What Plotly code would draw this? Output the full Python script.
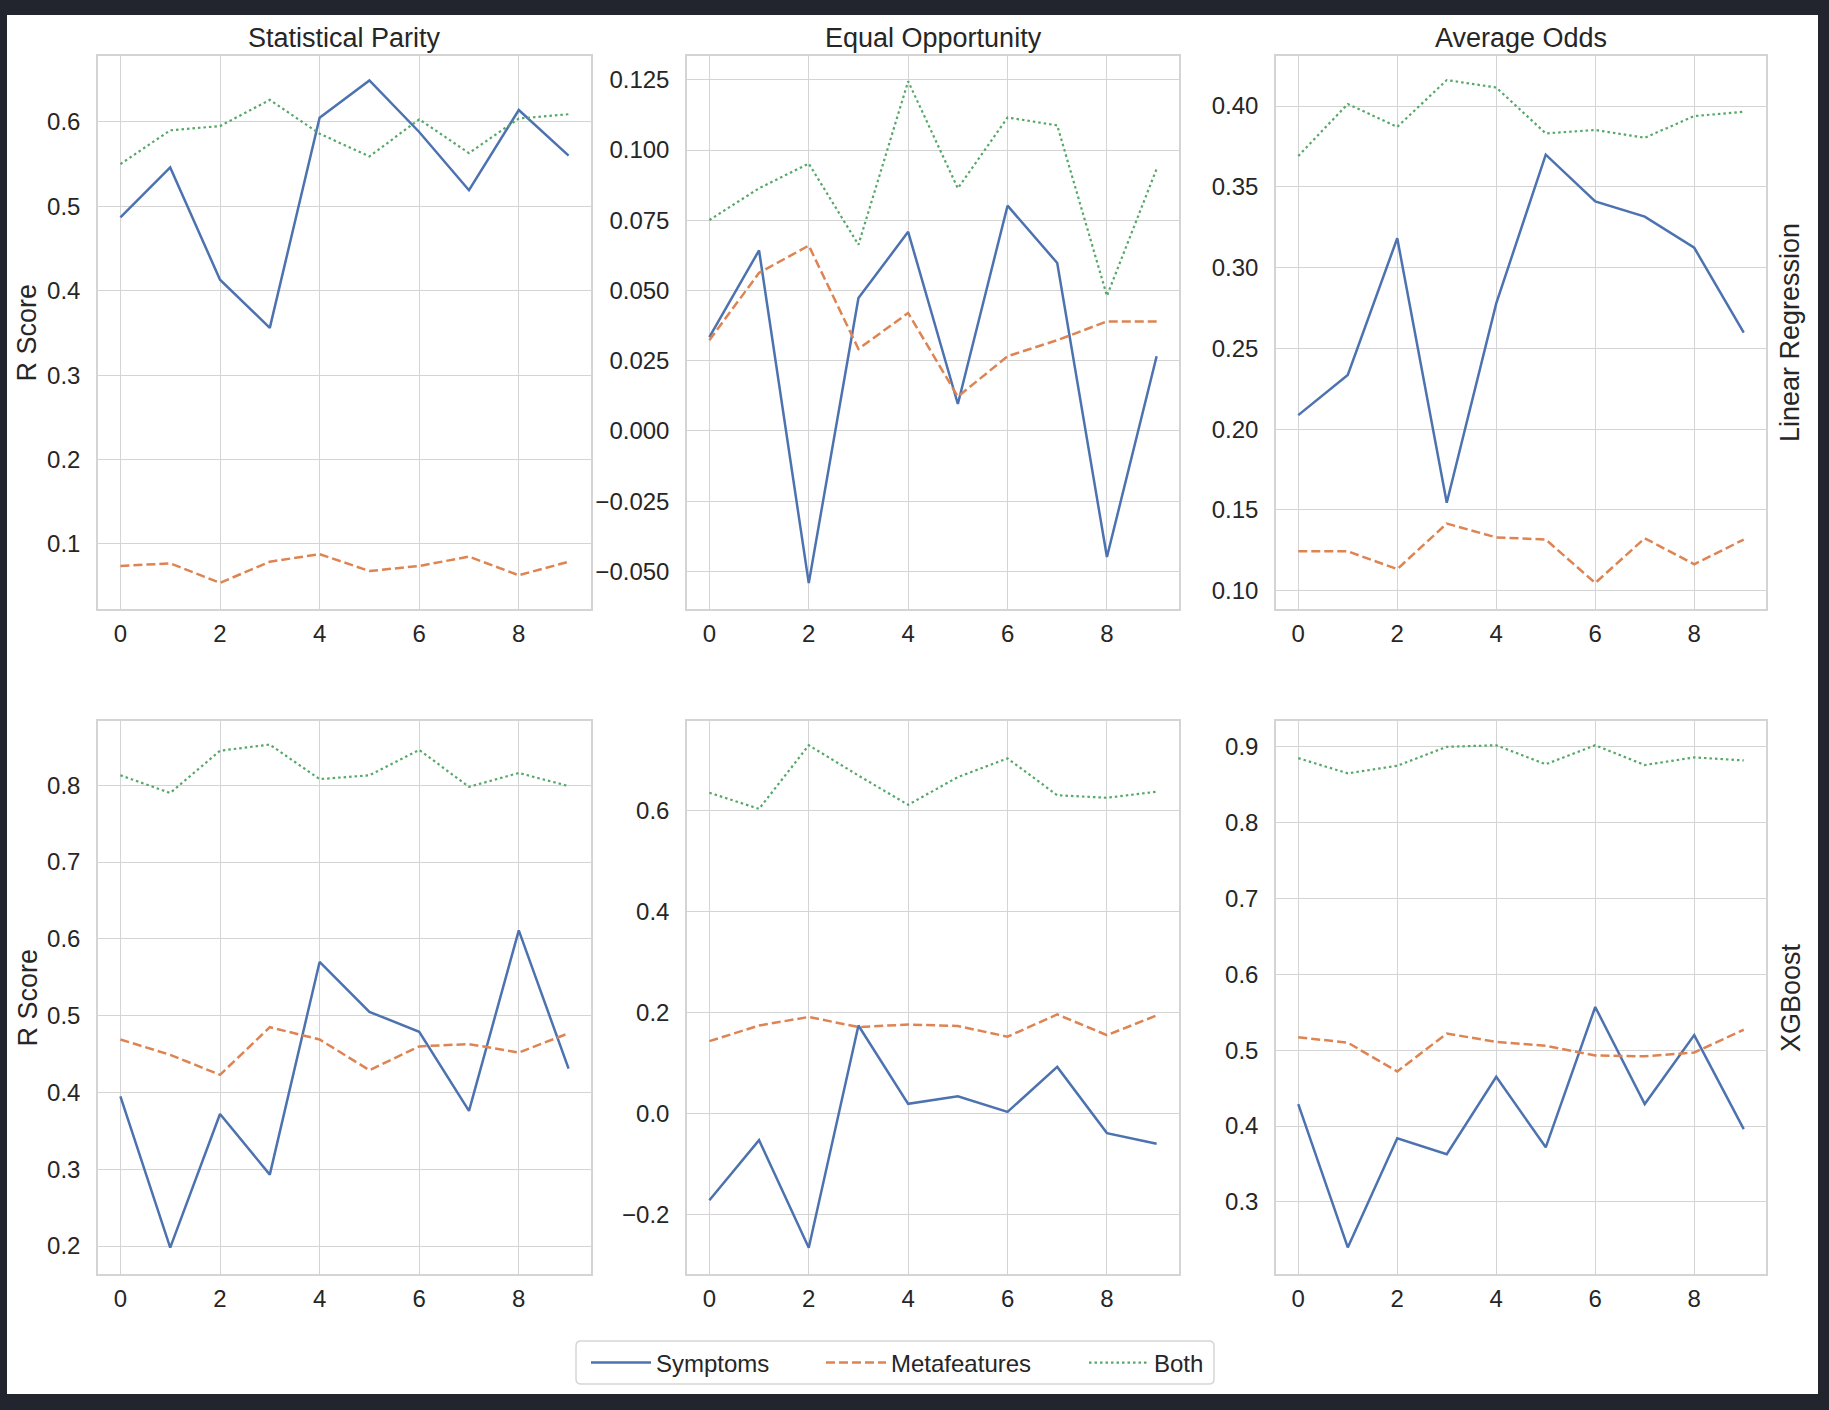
import plotly.graph_objects as go
from plotly.subplots import make_subplots

x_runs = [0, 1, 2, 3, 4, 5, 6, 7, 8, 9]
series_names = ["Symptoms", "Metafeatures", "Both"]
metric_titles = ["Statistical Parity", "Equal Opportunity", "Average Odds"]
model_names = ["Linear Regression", "XGBoost"]

# Linear Regression
lr_sp_symptoms = [0.487, 0.546, 0.413, 0.356, 0.605, 0.649, 0.588, 0.519, 0.614, 0.560]
lr_sp_meta = [0.074, 0.077, 0.054, 0.079, 0.088, 0.068, 0.074, 0.085, 0.063, 0.079]
lr_sp_both = [0.550, 0.590, 0.595, 0.626, 0.586, 0.559, 0.603, 0.563, 0.604, 0.609]

lr_eo_symptoms = [0.0334, 0.0643, -0.0542, 0.0473, 0.0709, 0.0096, 0.0802, 0.0598, -0.0449, 0.0266]
lr_eo_meta = [0.0323, 0.0563, 0.0660, 0.0292, 0.0420, 0.0122, 0.0266, 0.0323, 0.0390, 0.0390]
lr_eo_both = [0.0751, 0.0864, 0.0952, 0.0663, 0.1245, 0.0864, 0.1116, 0.1088, 0.0481, 0.0933]

lr_ao_symptoms = [0.2087, 0.2336, 0.3182, 0.1545, 0.2779, 0.3699, 0.3410, 0.3316, 0.3123, 0.2597]
lr_ao_meta = [0.1244, 0.1244, 0.1134, 0.1416, 0.1330, 0.1317, 0.1048, 0.1325, 0.1164, 0.1317]
lr_ao_both = [0.3691, 0.4013, 0.3871, 0.4161, 0.4115, 0.3831, 0.3852, 0.3804, 0.3938, 0.3965]

# XGBoost
xgb_sp_symptoms = [0.395, 0.198, 0.372, 0.293, 0.570, 0.505, 0.479, 0.376, 0.611, 0.431]
xgb_sp_meta = [0.469, 0.449, 0.423, 0.485, 0.469, 0.429, 0.460, 0.463, 0.452, 0.477]
xgb_sp_both = [0.813, 0.790, 0.845, 0.853, 0.808, 0.813, 0.846, 0.798, 0.816, 0.799]

xgb_eo_symptoms = [-0.172, -0.053, -0.266, 0.174, 0.019, 0.034, 0.003, 0.092, -0.039, -0.060]
xgb_eo_meta = [0.143, 0.174, 0.191, 0.171, 0.176, 0.173, 0.152, 0.196, 0.155, 0.194]
xgb_eo_both = [0.635, 0.603, 0.729, 0.669, 0.611, 0.666, 0.703, 0.630, 0.625, 0.637]

xgb_ao_symptoms = [0.429, 0.240, 0.384, 0.363, 0.465, 0.372, 0.557, 0.429, 0.520, 0.396]
xgb_ao_meta = [0.517, 0.510, 0.472, 0.522, 0.511, 0.506, 0.493, 0.492, 0.497, 0.527]
xgb_ao_both = [0.885, 0.865, 0.875, 0.900, 0.902, 0.877, 0.902, 0.876, 0.886, 0.882]

panels = [
    [(lr_sp_symptoms, lr_sp_meta, lr_sp_both),
     (lr_eo_symptoms, lr_eo_meta, lr_eo_both),
     (lr_ao_symptoms, lr_ao_meta, lr_ao_both)],
    [(xgb_sp_symptoms, xgb_sp_meta, xgb_sp_both),
     (xgb_eo_symptoms, xgb_eo_meta, xgb_eo_both),
     (xgb_ao_symptoms, xgb_ao_meta, xgb_ao_both)],
]

y_ranges = [[[0.023, 0.678], [-0.0634, 0.1335], [0.0887, 0.4310]],
            [[0.1636, 0.8837], [-0.318, 0.777], [0.205, 0.934]]]
y_dticks = [[0.1, 0.025, 0.05], [0.1, 0.2, 0.1]]
y_formats = [[".1f", ".3f", ".2f"], [".1f", ".1f", ".1f"]]

W, H = 1829, 1410
col_px = [(98, 591), (687, 1179), (1276, 1766)]
row_px = [(56, 609), (721, 1274)]

colors = ["#4c72b0", "#dd8452", "#55a868"]
dashes = ["solid", "9px,4px", "2.5px,3px"]
widths = [2.5, 2.5, 2.2]
legend_ids = ["legend", "legend2", "legend3"]
legend_text_x = [657, 892, 1155]

fig = make_subplots(rows=2, cols=3)

font_family = "Liberation Sans, Arial, sans-serif"
text_color = "#262626"
grid_color = "#d4d4d4"

for r in range(2):
    for c in range(3):
        for k in range(3):
            fig.add_trace(
                go.Scatter(
                    x=x_runs, y=panels[r][c][k], mode="lines",
                    name=series_names[k],
                    line=dict(color=colors[k], dash=dashes[k], width=widths[k]),
                    showlegend=(r == 0 and c == 0),
                    legend=legend_ids[k],
                    legendgroup=series_names[k],
                ),
                row=r + 1, col=c + 1,
            )
        x0, x1 = col_px[c]
        y0, y1 = row_px[r]
        fig.update_xaxes(
            domain=[x0 / W, x1 / W], range=[-0.45, 9.45],
            tickmode="linear", tick0=0, dtick=2,
            showgrid=True, gridcolor=grid_color, gridwidth=1.3,
            showline=True, linecolor=grid_color, linewidth=1.5, mirror=True,
            zeroline=False, ticks="", ticklabelstandoff=2,
            tickfont=dict(size=24, color=text_color, family=font_family),
            row=r + 1, col=c + 1,
        )
        fig.update_yaxes(
            domain=[1 - y1 / H, 1 - y0 / H], range=y_ranges[r][c],
            tickmode="linear", tick0=0, dtick=y_dticks[r][c],
            tickformat=y_formats[r][c],
            showgrid=True, gridcolor=grid_color, gridwidth=1.3,
            showline=True, linecolor=grid_color, linewidth=1.5, mirror=True,
            zeroline=False, ticks="", ticklabelstandoff=11,
            tickfont=dict(size=24, color=text_color, family=font_family),
            row=r + 1, col=c + 1,
        )

annotations = []
for c in range(3):
    x0, x1 = col_px[c]
    annotations.append(dict(
        text=metric_titles[c], xref="paper", yref="paper",
        x=(x0 + x1) / 2 / W, y=1 - 38 / H, xanchor="center", yanchor="middle",
        showarrow=False, font=dict(size=27, color=text_color, family=font_family),
    ))
for r in range(2):
    y0, y1 = row_px[r]
    yc = 1 - (y0 + y1) / 2 / H
    annotations.append(dict(
        text="R Score", xref="paper", yref="paper", x=27 / W, y=yc,
        xanchor="center", yanchor="middle", textangle=-90, showarrow=False,
        font=dict(size=27, color=text_color, family=font_family),
    ))
    annotations.append(dict(
        text=model_names[r], xref="paper", yref="paper", x=1790.5 / W, y=yc,
        xanchor="center", yanchor="middle", textangle=-90, showarrow=False,
        font=dict(size=27, color=text_color, family=font_family),
    ))

# legend frame (rounded rectangle)
lx0, lx1, ly0, ly1, rad = 576, 1214, 1341, 1384, 5
def px(v):
    return v / W
def py(v):
    return 1 - v / H
frame_path = (
    f"M {px(lx0 + rad)},{py(ly0)} L {px(lx1 - rad)},{py(ly0)} "
    f"Q {px(lx1)},{py(ly0)} {px(lx1)},{py(ly0 + rad)} "
    f"L {px(lx1)},{py(ly1 - rad)} Q {px(lx1)},{py(ly1)} {px(lx1 - rad)},{py(ly1)} "
    f"L {px(lx0 + rad)},{py(ly1)} Q {px(lx0)},{py(ly1)} {px(lx0)},{py(ly1 - rad)} "
    f"L {px(lx0)},{py(ly0 + rad)} Q {px(lx0)},{py(ly0)} {px(lx0 + rad)},{py(ly0)} Z"
)

shapes = [
    dict(type="rect", xref="paper", yref="paper",
         x0=7 / W, x1=1818 / W, y0=1 - 1394 / H, y1=1 - 15 / H,
         fillcolor="white", line=dict(width=0), layer="below"),
    dict(type="path", xref="paper", yref="paper", path=frame_path,
         fillcolor="white", line=dict(color="#d6d6d6", width=1.5), layer="below"),
]

legend_common = dict(
    orientation="h", xref="paper", yref="paper",
    xanchor="left", yanchor="middle",
    bgcolor="rgba(0,0,0,0)", borderwidth=0,
    font=dict(size=24, color=text_color, family=font_family),
    itemwidth=60,
)
legends = {}
for k, lid in enumerate(legend_ids):
    d = dict(legend_common)
    d["x"] = (legend_text_x[k] - 71) / W
    d["y"] = 1 - 1363 / H
    legends[lid] = d

fig.update_layout(
    width=W, height=H,
    margin=dict(l=0, r=0, t=0, b=0, autoexpand=False),
    paper_bgcolor="#22252e",
    plot_bgcolor="white",
    annotations=annotations,
    shapes=shapes,
    showlegend=True,
    **legends,
)

fig.write_html("out.html")
